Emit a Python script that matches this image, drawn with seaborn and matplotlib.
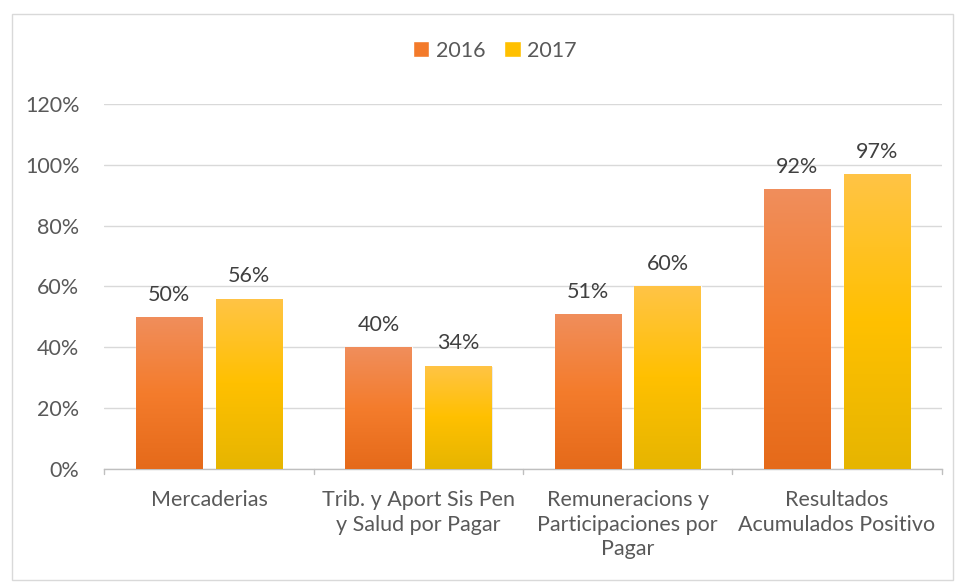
import numpy as np
import pandas as pd
import matplotlib
matplotlib.use("Agg")
import matplotlib.pyplot as plt
import seaborn as sns
from matplotlib.colors import LinearSegmentedColormap
from matplotlib.patches import Rectangle

categories = ["Mercaderias", "Trib. y Aport Sis Pen\ny Salud por Pagar",
              "Remuneracions y\nParticipaciones por\nPagar", "Resultados\nAcumulados Positivo"]
years = ["2016", "2017"]
values_2016 = [0.50, 0.40, 0.51, 0.92]
values_2017 = [0.56, 0.34, 0.60, 0.97]
yticks = [0, 0.2, 0.4, 0.6, 0.8, 1.0, 1.2]

df = pd.DataFrame({
    "cat": categories * 2,
    "year": ["2016"] * 4 + ["2017"] * 4,
    "val": values_2016 + values_2017,
})

sns.set_theme(style="white")
plt.rcParams["font.family"] = ["Lato", "DejaVu Sans"]
txt = "#595959"
fs = 15.5

fig = plt.figure(figsize=(9.57, 5.84), dpi=100)
ax = fig.add_axes([0.109, 0.197, 0.875, 0.625])

mid = {"2016": "#F37A2A", "2017": "#FFC000"}
grads = {
    "2016": ["#F08E5C", "#F47C2C", "#E56A1A"],
    "2017": ["#FFC446", "#FFC000", "#E6B500"],
}
sns.barplot(data=df, x="cat", y="val", hue="year", palette=mid, width=0.763,
            gap=0.17, saturation=1, ax=ax, legend=True, zorder=3)

ax.set_ylim(0, 1.2)
ax.set_xlim(-0.5, 3.5)
ax.set_yticks(yticks)
ax.set_yticklabels([f"{int(round(t*100))}%" for t in yticks], color=txt, fontsize=fs)
ax.set_xticks(range(4))
ax.set_xticklabels(categories, color=txt, fontsize=fs, linespacing=1.3)
ax.tick_params(axis="x", length=0, pad=15)
ax.tick_params(axis="y", length=0, pad=18)
ax.set_xlabel("")
ax.set_ylabel("")
ax.grid(axis="y", color="#D9D9D9", linewidth=1.0, zorder=0)
ax.set_axisbelow(True)
for s in ["top", "right", "left"]:
    ax.spines[s].set_visible(False)
ax.spines["bottom"].set_color("#BFBFBF")
ax.spines["bottom"].set_linewidth(1.0)
for b in np.arange(-0.5, 3.6, 1.0):
    ax.plot([b, b], [0, -0.018], color="#BFBFBF", lw=1.0, clip_on=False, zorder=2)

# gradient fills over library-drawn bars
for container, yr in zip(ax.containers, years):
    cmap = LinearSegmentedColormap.from_list("g" + yr, grads[yr][::-1])
    grad = np.linspace(0, 1, 256).reshape(-1, 1)
    for bar in container:
        x0, w, h = bar.get_x(), bar.get_width(), bar.get_height()
        sh = Rectangle((x0 + 0.006, -0.004), w, h, facecolor="#000000", alpha=0.10,
                       edgecolor="none", zorder=2.5)
        ax.add_patch(sh)
        im = ax.imshow(grad, extent=[x0, x0 + w, 0, h], origin="lower", aspect="auto",
                       cmap=cmap, zorder=3.5)
        im.set_clip_path(bar)
        ax.text(x0 + w / 2, h + 0.04, f"{int(round(h*100))}%", ha="center", va="bottom",
                color="#404040", fontsize=fs, zorder=5)

handles, labels = ax.get_legend_handles_labels()
leg = ax.legend(handles, labels, loc="center", bbox_to_anchor=(0.517, 0.913),
                bbox_transform=fig.transFigure, ncol=2, frameon=False, fontsize=fs,
                handlelength=0.75, handleheight=0.75, handletextpad=0.3, columnspacing=0.9)
for t in leg.get_texts():
    t.set_color(txt)

fig.patches.append(Rectangle((12 / 957, 4 / 584), 941 / 957, 566 / 584, transform=fig.transFigure,
                             fill=False, edgecolor="#D9D9D9", linewidth=1.0, zorder=0))
fig.savefig("out.png", dpi=100)
